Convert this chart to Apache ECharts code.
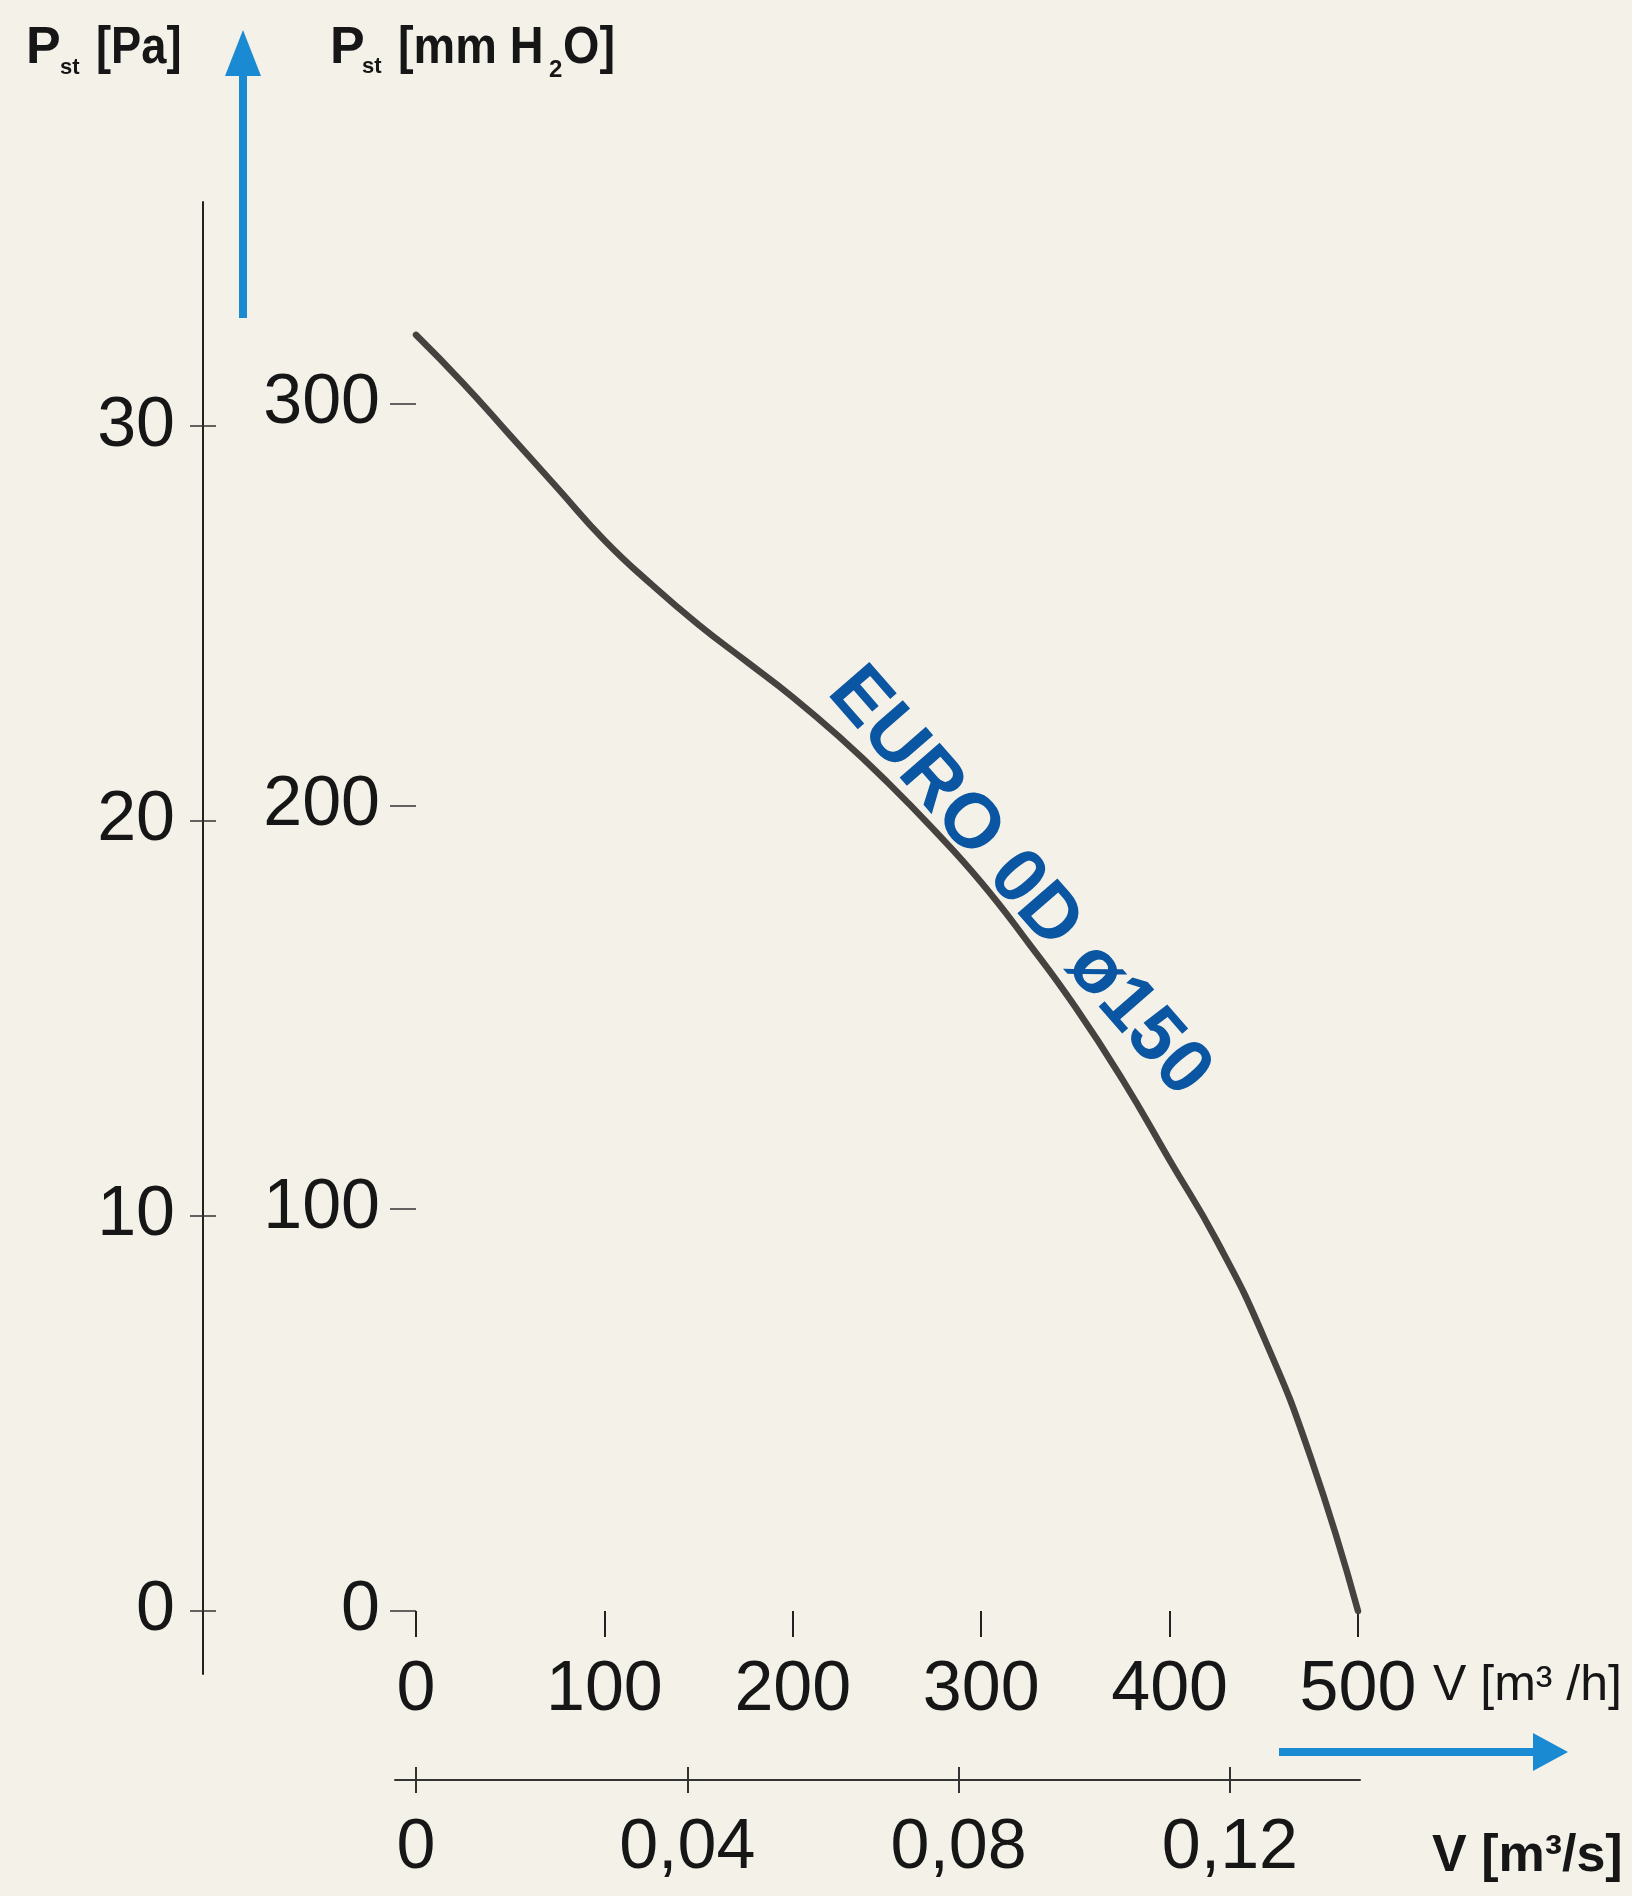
<!DOCTYPE html>
<html><head><meta charset="utf-8">
<script src="https://cdn.jsdelivr.net/npm/echarts@6/dist/echarts.min.js"></script>
<style>html,body{margin:0;padding:0;background:#f4f1e9}#c{width:1632px;height:1896px}</style>
</head><body><div id="c"></div>
<script>
// ---- data ----
const flowM3h    = [0, 25, 50, 75, 100, 125, 150, 175, 200, 225, 250, 275, 300, 325, 350, 375, 400, 425, 450, 475, 500];
const pressurePa = [317, 305, 292, 279, 266, 255, 245, 236, 227, 217, 206, 194, 181, 166, 150, 132, 112, 92, 68, 38, 0];
const flowTicksM3h = [0, 100, 200, 300, 400, 500];
const paTicks  = [0, 100, 200, 300];
const mmTicks  = [0, 10, 20, 30];
const m3sTicks = [0, 0.04, 0.08, 0.12];
const curveName = 'EURO 0D ø150';
const curveLabelAt = [320, 181]; // [m3/h, Pa]
const PA_PER_MM = 9.81;
const S_PER_H = 3600;

// axis ranges
const paMax = 350, paMinLeft = -15.65;
const flowMinS = -11.15, flowMaxS = 501.06;

const FONT = 'Liberation Sans, Arial, sans-serif';
const INK = '#161616';
const BLUE_ARROW = '#1a8bd3';

const seriesData = flowM3h.map((q, i) => [q, pressurePa[i]]);
const fmtComma = v => v === 0 ? '0' : String(v).replace('.', ',');

const chart = echarts.init(document.getElementById('c'), null, {renderer: 'canvas'});

function txt(x, y, text, size, bold, sx) {
  return {
    type: 'text', x: x, y: y, scaleX: sx || 1,
    style: {text: text, font: (bold ? 'bold ' : '') + size + 'px ' + FONT, fill: INK,
            verticalAlign: 'middle', align: 'left'}
  };
}

const option = {
  backgroundColor: '#f4f1e9',
  animation: false,
  grid: [
    {left: 416, right: 274, top: 202, bottom: 285},
    {left: 203, width: 20, top: 202, bottom: 222},
    {left: 395, right: 272, top: 1700, bottom: 116}
  ],
  xAxis: [
    {gridIndex: 0, type: 'value', position: 'bottom', min: 0, max: 500, interval: 100,
     splitLine: {show: false}, axisLine: {show: false},
     axisTick: {show: true, inside: false, length: 26, lineStyle: {color: '#222', width: 2}, customValues: flowTicksM3h},
     axisLabel: {margin: 45, fontSize: 70, fontFamily: FONT, color: INK, customValues: flowTicksM3h}},
    {gridIndex: 1, type: 'value', show: false},
    {gridIndex: 2, type: 'value', position: 'bottom', min: flowMinS / S_PER_H, max: flowMaxS / S_PER_H,
     splitLine: {show: false},
     axisLine: {show: true, lineStyle: {color: '#333', width: 2}},
     axisTick: {show: true, inside: false, length: 13, lineStyle: {color: '#333', width: 2}, customValues: m3sTicks},
     axisLabel: {margin: 34, fontSize: 70, fontFamily: FONT, color: INK, customValues: m3sTicks, formatter: fmtComma}},
    {gridIndex: 2, type: 'value', position: 'bottom', min: flowMinS / S_PER_H, max: flowMaxS / S_PER_H,
     splitLine: {show: false}, axisLine: {show: false},
     axisTick: {show: true, inside: true, length: 13, lineStyle: {color: '#333', width: 2}, customValues: m3sTicks},
     axisLabel: {show: false}}
  ],
  yAxis: [
    {gridIndex: 0, type: 'value', position: 'left', min: 0, max: paMax,
     splitLine: {show: false}, axisLine: {show: false},
     axisTick: {show: true, inside: false, length: 26, lineStyle: {color: '#333', width: 1.5}, customValues: paTicks},
     axisLabel: {margin: 36, fontSize: 70, fontFamily: FONT, color: INK, customValues: paTicks}},
    {gridIndex: 1, type: 'value', position: 'left', min: paMinLeft / PA_PER_MM, max: paMax / PA_PER_MM,
     splitLine: {show: false},
     axisLine: {show: true, lineStyle: {color: '#222', width: 2}},
     axisTick: {show: true, inside: false, length: 13, lineStyle: {color: '#333', width: 1.5}, customValues: mmTicks},
     axisLabel: {margin: 28, fontSize: 70, fontFamily: FONT, color: INK, customValues: mmTicks}},
    {gridIndex: 1, type: 'value', position: 'left', min: paMinLeft / PA_PER_MM, max: paMax / PA_PER_MM,
     splitLine: {show: false}, axisLine: {show: false},
     axisTick: {show: true, inside: true, length: 13, lineStyle: {color: '#333', width: 1.5}, customValues: mmTicks},
     axisLabel: {show: false}},
    {gridIndex: 2, type: 'value', show: false}
  ],
  series: [{
    type: 'line', xAxisIndex: 0, yAxisIndex: 0,
    data: seriesData, smooth: 0.5, showSymbol: false, clip: false,
    lineStyle: {color: '#46423f', width: 6.5, cap: 'round'},
    markPoint: {
      symbol: 'circle', symbolSize: 0, silent: true,
      data: [{coord: curveLabelAt, value: curveName}],
      label: {show: true, position: 'inside', formatter: curveName, rotate: -49,
              fontSize: 77, fontWeight: 'bold', fontFamily: FONT, color: '#0b56a3'}
    }
  }],
  graphic: [
    // up arrow
    {type: 'rect', shape: {x: 239, y: 72, width: 8, height: 246}, style: {fill: BLUE_ARROW}},
    {type: 'polygon', shape: {points: [[243, 30], [261, 76], [225, 76]]}, style: {fill: BLUE_ARROW}},
    // right arrow
    {type: 'rect', shape: {x: 1279, y: 1748, width: 258, height: 8}, style: {fill: BLUE_ARROW}},
    {type: 'polygon', shape: {points: [[1568, 1752], [1533, 1733], [1533, 1771]]}, style: {fill: BLUE_ARROW}},
    // titles
    txt(26, 49, 'P', 52, true),
    txt(60, 68, 'st', 22, true),
    txt(96, 49, '[Pa]', 52, true, 0.87),
    txt(330, 49, 'P', 52, true),
    txt(362, 67, 'st', 22, true),
    txt(398, 49, '[mm H', 52, true, 0.9),
    txt(549, 70, '2', 24, true),
    txt(563, 49, 'O]', 52, true, 0.9),
    // flow axis names
    txt(1433, 1686, 'V [m³ /h]', 50, false),
    txt(1432, 1857, 'V [m³/s]', 52, true)
  ]
};
chart.setOption(option);
</script>
</body></html>
